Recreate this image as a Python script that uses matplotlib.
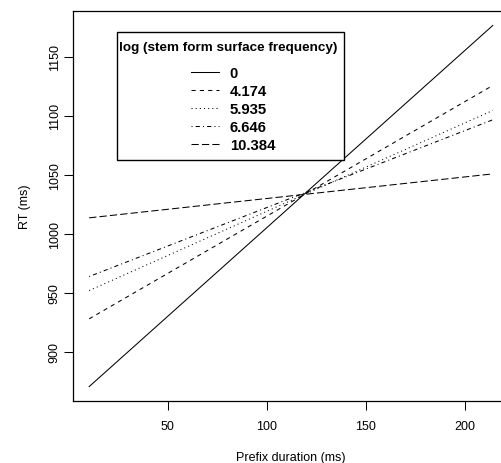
import numpy as np
import matplotlib
matplotlib.use('Agg')
import matplotlib.pyplot as plt

plt.rcParams['font.family'] = ['Liberation Sans', 'DejaVu Sans']

# fitted lines: prefix duration range and RT at both ends
x_ends = [10.4, 214.1]
freq_labels = ['0', '4.174', '5.935', '6.646', '10.384']
rt_start = [870.3, 927.8, 951.8, 963.7, 1013.5]
rt_end = [1176.7, 1125.8, 1104.6, 1096.7, 1050.8]
styles = ['-', (0, (4, 4)), (0, (1, 3)), (0, (1, 3, 4, 3)), (0, (7, 3))]

W, H = 502, 464
fig = plt.figure(figsize=(W / 100, H / 100), dpi=100)
ax = fig.add_axes([73 / W, (H - 402) / H, (509 - 73) / W, (402 - 12) / H])

for lab, y0, y1, ls in zip(freq_labels, rt_start, rt_end, styles):
    ax.plot(x_ends, [y0, y1], color='black', linewidth=0.75, linestyle=ls, label=lab)

ax.set_xlim(2.25, 222.3)
ax.set_ylim(858.1, 1189)
ax.set_xticks([50, 100, 150, 200])
ax.set_yticks([900, 950, 1000, 1050, 1100, 1150])
ax.tick_params(axis='both', labelsize=9, length=6.2, width=0.75)
ax.tick_params(axis='x', pad=7.5)
ax.tick_params(axis='y', pad=2.7)
for lbl in ax.get_yticklabels():
    lbl.set_rotation(90)
    lbl.set_va('center')
for s in ax.spines.values():
    s.set_linewidth(0.9)
ax.set_xlabel('Prefix duration (ms)', fontsize=9, labelpad=13.5)
ax.set_ylabel('RT (ms)', fontsize=9, labelpad=12.5)

# legend box, title and entries placed separately to match the original
box = plt.Rectangle((117 / W, 1 - 161 / H), 227 / W, 128 / H, transform=fig.transFigure,
                    facecolor='white', edgecolor='black', linewidth=1.0,
                    clip_on=False, zorder=4)
ax.add_patch(box)
fig.text(119 / W, 1 - 48 / H, 'log (stem form surface frequency)', fontsize=9.7,
         fontweight='bold', ha='left', va='center', zorder=6)

leg = ax.legend(loc='upper left',
                bbox_to_anchor=(191 / W, 1 - 67 / H), bbox_transform=fig.transFigure,
                borderaxespad=0, frameon=False,
                prop={'weight': 'bold', 'size': 10.7}, handlelength=1.9,
                handletextpad=0.7, labelspacing=0.27, borderpad=0)
leg.set_zorder(5)

fig.savefig('out.png', dpi=100)
